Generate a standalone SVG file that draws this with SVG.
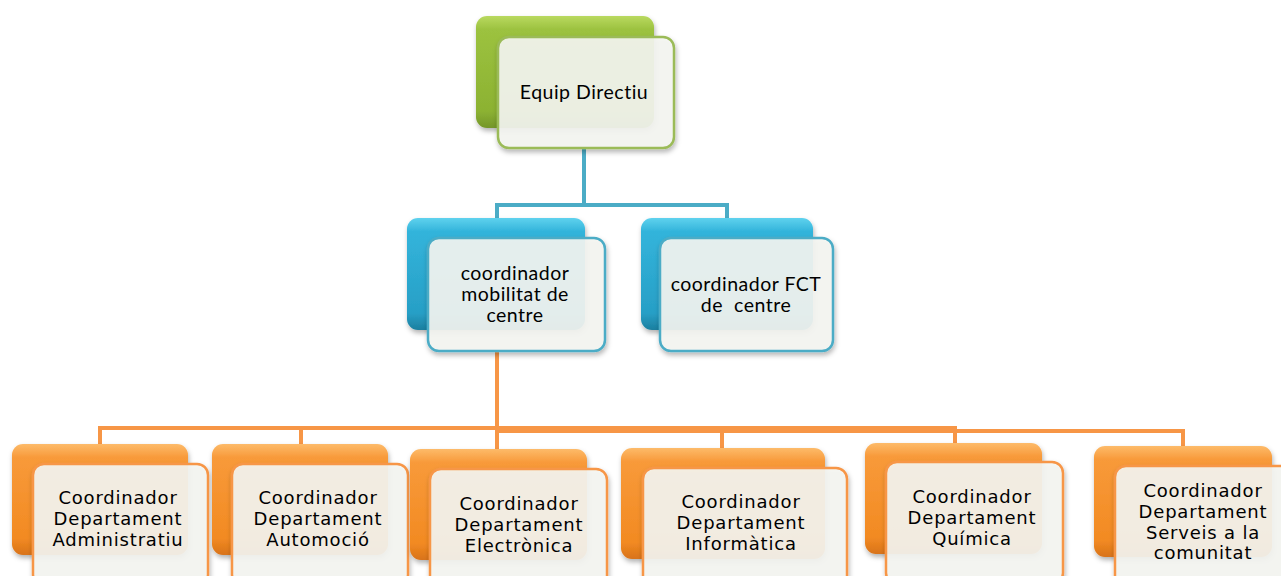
<svg xmlns="http://www.w3.org/2000/svg" width="1281" height="576" viewBox="0 0 1281 576">
<defs>
<linearGradient id="gG" x1="0" y1="0" x2="0" y2="1"><stop offset="0" stop-color="#b9d960"/><stop offset="0.12" stop-color="#9cc23f"/><stop offset="0.85" stop-color="#8cb232"/><stop offset="1" stop-color="#74962a"/></linearGradient>
<linearGradient id="gB" x1="0" y1="0" x2="0" y2="1"><stop offset="0" stop-color="#5fd2ee"/><stop offset="0.12" stop-color="#33b4db"/><stop offset="0.85" stop-color="#279fc6"/><stop offset="1" stop-color="#1c7f9f"/></linearGradient>
<linearGradient id="gO" x1="0" y1="0" x2="0" y2="1"><stop offset="0" stop-color="#fdbb6a"/><stop offset="0.12" stop-color="#f89a3a"/><stop offset="0.85" stop-color="#f28a22"/><stop offset="1" stop-color="#d8731a"/></linearGradient>
<filter id="sh" x="-10%" y="-10%" width="125%" height="130%"><feDropShadow dx="1" dy="3" stdDeviation="2.5" flood-color="#000" flood-opacity="0.3"/></filter>
</defs>
<style>
.back{filter:url(#sh)}
.front{fill:#f5f6f2;fill-opacity:0.9;stroke-width:2.5;filter:url(#sh)}
.fg{stroke:#9bbb59}.fb{stroke:#4bacc6}.fo{stroke:#f79646}
.t1{font-family:Lato,"Open Sans",sans-serif;font-size:19.5px;letter-spacing:0.5px;fill:#000;text-anchor:middle}
.t2{font-family:"DejaVu Sans",Verdana,sans-serif;font-size:18px;letter-spacing:0.8px;fill:#000;text-anchor:middle}
.cb{fill:none;stroke:#4bacc6;stroke-width:4}
.co{fill:none;stroke:#f79646;stroke-width:4}
</style>
<g id="connectors">
<path class="cb" d="M584 148 V205 M497 205 H727 M497 203 V220 M727 203 V220"/>
<path class="co" d="M497 351 V450 M100 428 H955 M497 431 H1183 M100 426 V446 M301 426 V446 M722 429 V450 M955 426 V445 M1183 429 V448"/>
</g>
<g id="equip">
<rect class="back" x="476" y="16" width="178" height="112" rx="11" fill="url(#gG)"/>
<rect class="front fg" x="498" y="37" width="176" height="111" rx="11"/>
<text class="t1" x="584" y="99">Equip Directiu</text>
</g>
<g id="mobilitat">
<rect class="back" x="407" y="218" width="178" height="112" rx="11" fill="url(#gB)"/>
<rect class="front fb" x="428" y="238" width="177" height="113" rx="11"/>
<text class="t1" x="515" y="280">coordinador</text>
<text class="t1" x="515" y="301">mobilitat de</text>
<text class="t1" x="515" y="322">centre</text>
</g>
<g id="fct">
<rect class="back" x="641" y="218" width="172" height="112" rx="11" fill="url(#gB)"/>
<rect class="front fb" x="660" y="238" width="173" height="113" rx="11"/>
<text class="t1" x="746" y="291">coordinador FCT</text>
<text class="t1" x="746" y="312" xml:space="preserve">de  centre</text>
</g>
<g id="administratiu">
<rect class="back" x="12" y="444" width="176" height="111" rx="11" fill="url(#gO)"/>
<rect class="front fo" x="33" y="464" width="175" height="122" rx="11"/>
<text class="t2" x="118" y="504">Coordinador</text>
<text class="t2" x="118" y="525">Departament</text>
<text class="t2" x="118" y="546">Administratiu</text>
</g>
<g id="automocio">
<rect class="back" x="212" y="444" width="176" height="111" rx="11" fill="url(#gO)"/>
<rect class="front fo" x="232" y="464" width="176" height="122" rx="11"/>
<text class="t2" x="318" y="504">Coordinador</text>
<text class="t2" x="318" y="525">Departament</text>
<text class="t2" x="318" y="546">Automoció</text>
</g>
<g id="electronica">
<rect class="back" x="410" y="449" width="177" height="111" rx="11" fill="url(#gO)"/>
<rect class="front fo" x="430" y="469" width="177" height="122" rx="11"/>
<text class="t2" x="519" y="510">Coordinador</text>
<text class="t2" x="519" y="531">Departament</text>
<text class="t2" x="519" y="552">Electrònica</text>
</g>
<g id="informatica">
<rect class="back" x="621" y="448" width="204" height="111" rx="11" fill="url(#gO)"/>
<rect class="front fo" x="643" y="468" width="204" height="122" rx="11"/>
<text class="t2" x="741" y="508">Coordinador</text>
<text class="t2" x="741" y="529">Departament</text>
<text class="t2" x="741" y="550">Informàtica</text>
</g>
<g id="quimica">
<rect class="back" x="865" y="443" width="177" height="111" rx="11" fill="url(#gO)"/>
<rect class="front fo" x="886" y="462" width="177" height="122" rx="11"/>
<text class="t2" x="972" y="503">Coordinador</text>
<text class="t2" x="972" y="524">Departament</text>
<text class="t2" x="972" y="545">Química</text>
</g>
<g id="serveis">
<rect class="back" x="1094" y="446" width="178" height="111" rx="11" fill="url(#gO)"/>
<rect class="front fo" x="1115" y="466" width="180" height="122" rx="11"/>
<text class="t2" x="1203" y="497">Coordinador</text>
<text class="t2" x="1203" y="518">Departament</text>
<text class="t2" x="1203" y="539">Serveis a la</text>
<text class="t2" x="1203" y="559">comunitat</text>
</g>
</svg>
